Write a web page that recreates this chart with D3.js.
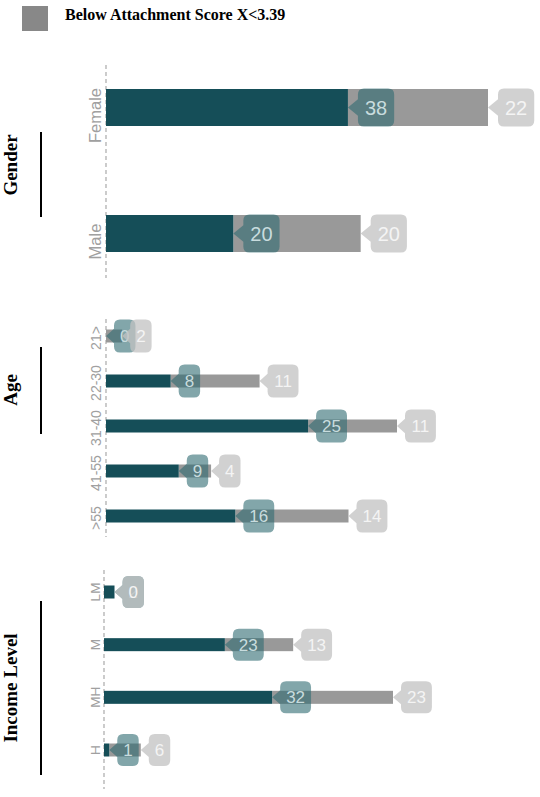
<!DOCTYPE html>
<html>
<head>
<meta charset="utf-8">
<script src="https://cdn.jsdelivr.net/npm/d3@7"></script>
<style>
  body { margin: 0; background: #fff; }
  svg { display: block; }
</style>
</head>
<body>
<svg id="chart" width="540" height="797"></svg>
<script>
// values
const genderCats = ['Female', 'Male'];
const genderAbove = [38, 20];
const genderBelow = [22, 20];

const ageCats = ['21>', '22-30', '31-40', '41-55', '>55'];
const ageAbove = [0, 8, 25, 9, 16];
const ageBelow = [2, 11, 11, 4, 14];

const incomeCats = ['LM', 'M', 'MH', 'H'];
const incomeAbove = [2, 23, 32, 1];
const incomeBelow = [0, 13, 23, 6];

const legendLabel = 'Below Attachment Score X<3.39';

const DARK = '#154e58';
const GREY = '#999999';

// layout for each panel (the three panels are not on a shared scale)
const panels = [
  { title: 'Gender', cats: genderCats, above: genderAbove, below: genderBelow,
    x0: 106, x1: 488, y0: 107.5, y1: 233.5, axisTop: 65, axisBottom: 278,
    barH: 37, catFont: 16.5, catX: 101, catDy: 8, lblFont: 20, boxH: 38, pad: 7, arrow: 10,
    titleY: 165, lineTop: 132, lineBottom: 217 },
  { title: 'Age', cats: ageCats, above: ageAbove, below: ageBelow,
    x0: 106, x1: 397, y0: 336, y1: 516, axisTop: 319, axisBottom: 537,
    barH: 13, catFont: 14, catX: 101, catDy: 2, lblFont: 17, boxH: 33, pad: 6, arrow: 8,
    titleY: 390, lineTop: 347, lineBottom: 434 },
  { title: 'Income Level', cats: incomeCats, above: incomeAbove, below: incomeBelow,
    x0: 104, x1: 393, y0: 592, y1: 750, axisTop: 570, axisBottom: 789,
    barH: 13, catFont: 13.5, catX: 100, catDy: 0, lblFont: 17, boxH: 32, pad: 6, arrow: 8,
    titleY: 688, lineTop: 601, lineBottom: 775 }
];

const svg = d3.select('#chart');

// legend
svg.append('rect')
  .attr('x', 22).attr('y', 6).attr('width', 26).attr('height', 25)
  .attr('fill', '#888888');
svg.append('text')
  .attr('x', 65).attr('y', 20)
  .attr('font-family', '"Liberation Serif", "Times New Roman", serif')
  .attr('font-weight', 'bold').attr('font-size', 16)
  .text(legendLabel);

// rounded box with a left pointing arrow, tip at (0,0)
function calloutPath(w, h, a, ah, r) {
  const t = -h / 2, b = h / 2;
  return `M0,0 L${a},${-ah} L${a},${t + r} Q${a},${t} ${a + r},${t}` +
    ` L${a + w - r},${t} Q${a + w},${t} ${a + w},${t + r}` +
    ` L${a + w},${b - r} Q${a + w},${b} ${a + w - r},${b}` +
    ` L${a + r},${b} Q${a},${b} ${a},${b - r} L${a},${ah} Z`;
}

panels.forEach(p => {
  const rows = p.cats.map((c, i) => ({ cat: c, above: p.above[i], below: p.below[i] }));
  const maxTotal = d3.max(rows, d => d.above + d.below);

  const x = d3.scaleLinear().domain([0, maxTotal]).range([p.x0, p.x1]);
  const y = d3.scalePoint().domain(p.cats).range([p.y0, p.y1]);

  const g = svg.append('g').attr('class', 'panel');

  // section title + rule
  g.append('text')
    .attr('transform', `translate(17,${p.titleY}) rotate(-90)`)
    .attr('text-anchor', 'middle')
    .attr('font-family', '"Liberation Serif", "Times New Roman", serif')
    .attr('font-weight', 'bold').attr('font-size', 19)
    .text(p.title);
  g.append('line')
    .attr('x1', 41).attr('x2', 41)
    .attr('y1', p.lineTop).attr('y2', p.lineBottom)
    .attr('stroke', '#000').attr('stroke-width', 2);

  // zero line
  g.append('line')
    .attr('x1', x(0)).attr('x2', x(0))
    .attr('y1', p.axisTop).attr('y2', p.axisBottom)
    .attr('stroke', '#aaaaaa').attr('stroke-width', 1.2)
    .attr('stroke-dasharray', '4,3');

  // category labels
  g.selectAll('.cat').data(rows).join('text')
    .attr('class', 'cat')
    .attr('transform', d => `translate(${p.catX},${y(d.cat) + p.catDy}) rotate(-90)`)
    .attr('text-anchor', 'middle')
    .attr('font-family', '"Liberation Sans", Arial, sans-serif')
    .attr('font-size', p.catFont)
    .attr('fill', '#a0a0a0')
    .text(d => d.cat);

  // stacked bars
  g.selectAll('.bar-below').data(rows).join('rect')
    .attr('class', 'bar-below')
    .attr('x', d => x(d.above))
    .attr('width', d => x(d.above + d.below) - x(d.above))
    .attr('y', d => y(d.cat) - p.barH / 2)
    .attr('height', p.barH)
    .attr('fill', GREY);
  g.selectAll('.bar-above').data(rows).join('rect')
    .attr('class', 'bar-above')
    .attr('x', x(0))
    .attr('width', d => x(d.above) - x(0))
    .attr('y', d => y(d.cat) - p.barH / 2)
    .attr('height', p.barH)
    .attr('fill', DARK);

  const boxW = v => String(v).length * 0.556 * p.lblFont + 2 * p.pad;
  const ah = p.boxH * 0.22;

  function drawLabels(cls, valueOf, tipOf, fill, opacity, textFill) {
    const lg = g.selectAll('.' + cls).data(rows).join('g')
      .attr('class', cls)
      .attr('transform', d => `translate(${x(tipOf(d))},${y(d.cat)})`);
    lg.append('path')
      .attr('d', d => calloutPath(boxW(valueOf(d)), p.boxH, p.arrow, ah, 6))
      .attr('fill', fill).attr('fill-opacity', opacity);
    lg.append('text')
      .attr('x', d => p.arrow + boxW(valueOf(d)) / 2)
      .attr('dy', '0.36em')
      .attr('text-anchor', 'middle')
      .attr('font-family', '"Liberation Sans", Arial, sans-serif')
      .attr('font-size', p.lblFont)
      .attr('fill', textFill)
      .text(d => valueOf(d));
  }

  drawLabels('lbl-above', d => d.above, d => d.above, '#2f6a72', 0.6, '#c8dcde');
  drawLabels('lbl-below', d => d.below, d => d.above + d.below, '#c2c2c2', 0.75, '#f4f4f4');
});
</script>
</body>
</html>
